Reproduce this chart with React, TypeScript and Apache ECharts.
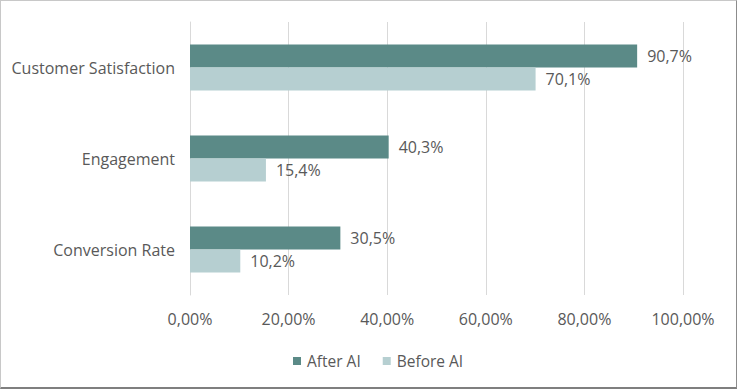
import React, { useEffect, useRef } from "react";
import * as echarts from "echarts";

const categories = ["Customer Satisfaction", "Engagement", "Conversion Rate"];
const afterAI = [90.7, 40.3, 30.5];
const beforeAI = [70.1, 15.4, 10.2];
const seriesNames = ["After AI", "Before AI"];

const FONT = "'Open Sans', 'Noto Sans', sans-serif";
const TEXT = "#595959";

export default function App() {
  const ref = useRef<HTMLDivElement>(null);
  useEffect(() => {
    document.body.style.margin = "0";
    const chart = echarts.init(ref.current!, null, { renderer: "svg" });
    const fmtLabel = (p: any) => p.value.toFixed(1).replace(".", ",") + "%";
    const labelCfg = {
      show: true,
      position: "right",
      distance: 10,
      color: TEXT,
      fontSize: 16,
      fontFamily: FONT,
      formatter: fmtLabel,
    };
    chart.setOption({
      animation: false,
      textStyle: { fontFamily: FONT, color: TEXT },
      grid: { left: 190, right: 54, top: 22, bottom: 94, containLabel: false },
      legend: {
        top: 348,
        left: 288,
        itemWidth: 8,
        itemHeight: 8,
        itemGap: 22,
        icon: "rect",
        textStyle: { fontFamily: FONT, color: TEXT, fontSize: 15.5, padding: [0, 0, 0, 1] },
        data: seriesNames,
      },
      xAxis: {
        type: "value",
        min: 0,
        max: 100,
        interval: 20,
        axisLine: { show: false },
        axisTick: { show: false },
        splitLine: { lineStyle: { color: "#d9d9d9", width: 1 } },
        axisLabel: {
          color: TEXT,
          fontSize: 16,
          fontFamily: FONT,
          margin: 16,
          formatter: (v: number) => v.toFixed(2).replace(".", ",") + "%",
        },
      },
      yAxis: {
        type: "category",
        data: categories,
        inverse: true,
        axisLine: { show: true, lineStyle: { color: "#d9d9d9" } },
        axisTick: { show: false },
        axisLabel: { color: TEXT, fontSize: 16, fontFamily: FONT, margin: 15 },
      },
      series: [
        {
          name: seriesNames[0],
          type: "bar",
          data: afterAI,
          barGap: "0%",
          barCategoryGap: "49.5%",
          itemStyle: { color: "#5b8a87" },
          label: labelCfg,
        },
        {
          name: seriesNames[1],
          type: "bar",
          data: beforeAI,
          barGap: "0%",
          barCategoryGap: "49.5%",
          itemStyle: { color: "#b6cfd1" },
          label: labelCfg,
        },
      ],
    });
    return () => chart.dispose();
  }, []);
  return (
    <div style={{ position: "absolute", left: 0, top: 0, width: 737, height: 389, background: "#fff" }}>
      <div ref={ref} style={{ position: "absolute", left: 0, top: 0, width: 737, height: 389 }} />
      <div
        style={{
          position: "absolute",
          left: 0,
          top: 0,
          width: 737,
          height: 389,
          boxSizing: "border-box",
          borderTop: "1px solid #c8c8c8",
          borderLeft: "1px solid #c8c8c8",
          borderRight: "1px solid #8c8c8c",
          borderBottom: "2px solid #7f7f7f",
          pointerEvents: "none",
        }}
      />
    </div>
  );
}
